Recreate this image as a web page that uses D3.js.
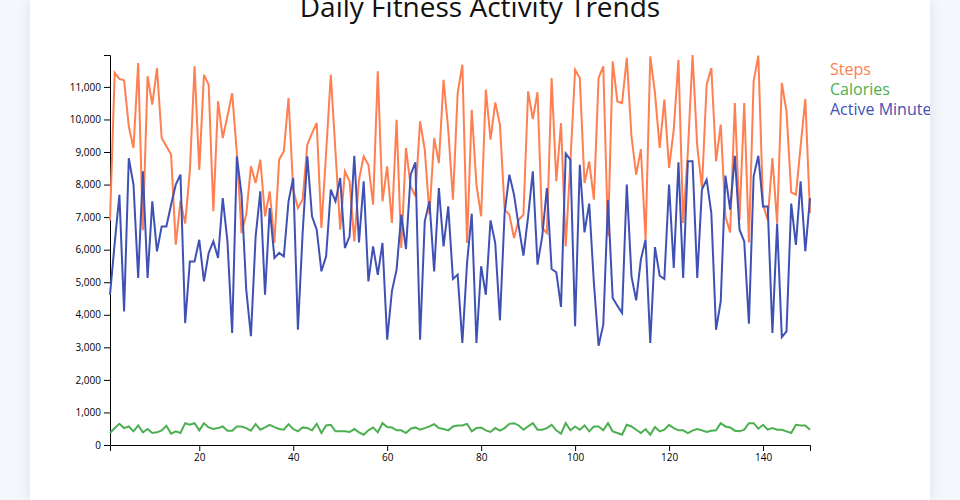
<!DOCTYPE html>
<html>
<head>
<meta charset="utf-8">
<script src="https://cdn.jsdelivr.net/npm/d3@7"></script>
<style>
  html, body { margin: 0; padding: 0; background: #f4f7fb; overflow: hidden; }
  #card { position: absolute; left: 30px; top: 0; width: 900px; height: 500px; background: #fff;
          box-shadow: 0 0 12px rgba(40,60,100,0.12); overflow: hidden; }
  svg { display: block; font-family: "Open Sans", sans-serif; }
</style>
</head>
<body>
<div id="card"></div>
<script>
const days = d3.range(1, 151);
const steps = [6900,11430,11245,11200,9790,9125,11735,6600,11330,10455,11580,9430,9175,8920,6155,7500,6800,8430,11630,8450,11370,11070,7180,10560,9430,
  10100,10810,8970,6510,7075,8560,8050,8765,7025,7790,6205,8765,9020,10660,7840,7280,7540,9225,9580,9890,6665,8970,11375,9000,6615,
  8405,8100,6255,8150,8865,8610,7380,11480,7485,8560,6820,9990,6050,9125,7945,7640,9940,9070,7075,9430,8660,11220,9685,7535,
  10810,11680,6205,10300,8000,7025,10915,9380,10525,9840,7230,7075,6360,6920,7075,10865,10015,10835,6665,6510,11275,8100,9890,6100,
  8700,11530,11275,8050,8710,7535,11275,11630,6410,11785,10555,10505,11890,9480,8305,9090,6305,11940,10815,9125,10610,8510,9685,11835,6820,
  9000,11980,9175,7895,11070,11580,8715,9840,7025,6530,10505,6920,10505,6225,11170,11960,7380,6920,8815,6820,11120,10250,7760,7690,9175,10630,7125];
const calories = [367,520,650,520,570,420,600,390,490,367,390,450,590,347,420,367,670,620,670,450,670,540,490,520,570,
  440,440,570,570,520,440,640,470,540,620,550,490,470,640,490,420,540,520,450,650,367,600,620,420,420,
  420,400,490,390,316,450,540,390,670,550,540,450,450,367,500,540,470,520,570,640,520,490,450,570,
  600,600,650,420,520,540,450,400,520,440,520,650,670,600,470,570,670,470,470,520,620,450,347,670,
  450,570,470,600,420,570,570,450,670,420,367,316,620,570,470,367,490,316,550,420,470,620,520,450,450,
  367,440,490,450,400,440,450,670,570,540,440,420,470,670,670,500,620,470,520,470,470,420,367,620,600,600,470];
const activeMinutes = [4615,6200,7685,4105,8810,8000,5130,8405,5130,7485,5950,6715,6715,7380,8000,8305,3745,5640,5640,6305,5025,5900,6255,5745,7585,
  6255,3440,8865,7690,4770,3340,6410,7790,4615,7280,5745,5900,5795,7485,8200,3540,6500,8865,7025,6615,5335,5795,7845,7485,8200,
  6050,6410,8885,6225,8100,5025,6100,5230,6205,3235,4720,5385,7075,6020,8305,8685,3235,6870,7485,5335,7895,6100,7330,5100,
  5230,3135,5590,7105,3135,5490,4615,6900,6205,3830,7125,8305,7690,6715,5815,7025,8405,5540,6410,7895,5405,5305,4240,8950,
  8765,3645,8610,6530,7415,4975,3050,3695,7515,4515,4280,4055,8000,5180,4445,5695,6305,3135,6080,5200,5100,8000,5435,8685,5130,
  8715,8715,5130,7845,8150,7125,3540,4410,8275,7230,8885,6615,6255,3725,8255,8885,7330,7330,3440,6800,3315,3490,7415,6145,8100,5950,7585];

const seriesNames = ["Steps", "Calories", "Active Minutes"];
const seriesColors = ["#ff7f50", "#4caf50", "#3f51b5"];
const seriesValues = [steps, calories, activeMinutes];

const W = 900, H = 500;
const margin = {top: 55, right: 120, bottom: 55, left: 80};

const svg = d3.select("#card").append("svg").attr("width", W).attr("height", H);

const x = d3.scaleLinear().domain(d3.extent(days)).range([margin.left, W - margin.right]);
const y = d3.scaleLinear().domain([0, d3.max(seriesValues.flat())]).range([H - margin.bottom, margin.top]);

svg.append("g").attr("transform", `translate(0,${H - margin.bottom})`)
  .call(d3.axisBottom(x))
  .call(g => g.attr("font-family", "'Open Sans', sans-serif"));
svg.append("g").attr("transform", `translate(${margin.left},0)`)
  .call(d3.axisLeft(y).tickFormat(d3.format(",")))
  .call(g => g.attr("font-family", "'Open Sans', sans-serif"));

const line = d3.line().x((d, i) => x(days[i])).y(d => y(d));

seriesValues.forEach((vals, k) => {
  svg.append("path").datum(vals)
    .attr("fill", "none").attr("stroke", seriesColors[k]).attr("stroke-width", 2)
    .attr("d", line);
});

svg.append("text").attr("x", W / 2).attr("y", 17).attr("text-anchor", "middle")
  .attr("font-size", 28).attr("fill", "#111").text("Daily Fitness Activity Trends");

const legend = svg.append("g");
seriesNames.forEach((n, k) => {
  legend.append("text").attr("x", W - margin.right + 20).attr("y", 75 + k * 20)
    .attr("font-size", 16).attr("fill", seriesColors[k]).text(n);
});
</script>
</body>
</html>
